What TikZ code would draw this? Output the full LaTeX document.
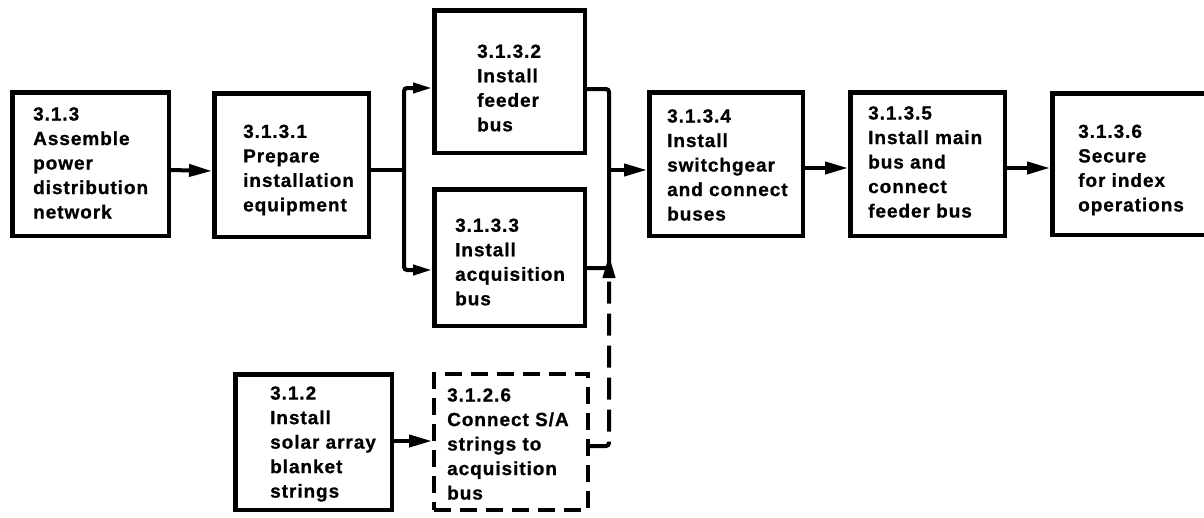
\documentclass[tikz,border=0pt]{standalone}
\usepackage{fontspec}
\setmainfont{Liberation Sans}[LetterSpace=5, BoldFeatures={FakeBold=0.8}]
\usetikzlibrary{arrows.meta}
\begin{document}
\begin{tikzpicture}[x=1pt,y=-1pt,
  box/.style={draw, line width=4.5pt, inner sep=0pt},
  dbox/.style={box, line width=4pt, dash pattern=on 17pt off 9pt},
  txt/.style={anchor=west, align=left, inner sep=0pt, font=\fontsize{19}{24.5}\selectfont\bfseries},
  conn/.style={line width=4pt, rounded corners=3pt},
  arr/.style={conn, -{Triangle[length=23pt,width=12pt]}},
  sarr/.style={conn, -{Triangle[length=19pt,width=10pt]}},
  darr/.style={arr, dash pattern=on 22pt off 10pt}]
\useasboundingbox (0,0) rectangle (1204,517);
% boxes
\node[box, minimum width=156.5pt, minimum height=143.5pt] (b1) at (90.5,164) {};
\node[box, minimum width=154.5pt, minimum height=143.5pt] (b2) at (291.5,165) {};
\node[box, minimum width=150.5pt, minimum height=142.5pt] (b3) at (509.5,81.5) {};
\node[box, minimum width=150.5pt, minimum height=136.5pt] (b4) at (509.5,257.5) {};
\node[box, minimum width=153.5pt, minimum height=143.5pt] (b5) at (726,164) {};
\node[box, minimum width=154.5pt, minimum height=143.5pt] (b6) at (927.5,164) {};
\node[box, minimum width=160.5pt, minimum height=141.5pt] (b7) at (1132.5,164) {};
\node[box, minimum width=156.5pt, minimum height=135.5pt] (b8) at (313.5,442) {};
\node[dbox, minimum width=154pt, minimum height=136pt] (b9) at (511,442) {};
% texts
\node[txt] (t1) at (33,163) {3.1.3\\Assemble\\power\\distribution\\network};
\node[txt] (t2) at (243,170) {3.1.3.1\\Prepare\\installation\\equipment};
\node[txt] (t3) at (477,88) {3.1.3.2\\Install\\feeder\\bus};
\node[txt] (t4) at (455,262) {3.1.3.3\\Install\\acquisition\\bus};
\node[txt] (t5) at (667,165) {3.1.3.4\\Install\\switchgear\\and connect\\buses};
\node[txt] (t6) at (868,162) {3.1.3.5\\Install main\\bus and\\connect\\feeder bus};
\node[txt] (t7) at (1078,170) {3.1.3.6\\Secure\\for index\\operations};
\node[txt] (t8) at (270,444) {3.1.2\\Install\\solar array\\blanket\\strings};
\node[txt] (t9) at (447,444) {3.1.2.6\\Connect S/A\\strings to\\acquisition\\bus};
% junctions
\coordinate (j1) at (404,170);
\coordinate (j2) at (609,170);
\coordinate (j3) at (609,255);
% connectors
\draw[arr] ([yshift=-6pt]b1.east) -- ([yshift=-6pt]b2.west);
\draw[conn] ([yshift=-5pt]b2.east) -- (j1);
\draw[sarr] (j1) |- ([yshift=-6.5pt]b3.west);
\draw[sarr] (j1) |- ([yshift=-12.5pt]b4.west);
\draw[conn] ([yshift=-7.5pt]b3.east) -| (j2);
\draw[conn] ([yshift=-10.5pt]b4.east) -| (j2);
\draw[arr] (j2) -- ([yshift=-6pt]b5.west);
\draw[arr] ([yshift=-4pt]b5.east) -- ([yshift=-4pt]b6.west);
\draw[arr] ([yshift=-4pt]b6.east) -- ([yshift=-4pt]b7.west);
\draw[arr] ([yshift=1pt]b8.east) -- ([yshift=1pt]b9.west);
\draw[darr] ([yshift=-4pt]b9.east) -| (j3);
\end{tikzpicture}
\end{document}
